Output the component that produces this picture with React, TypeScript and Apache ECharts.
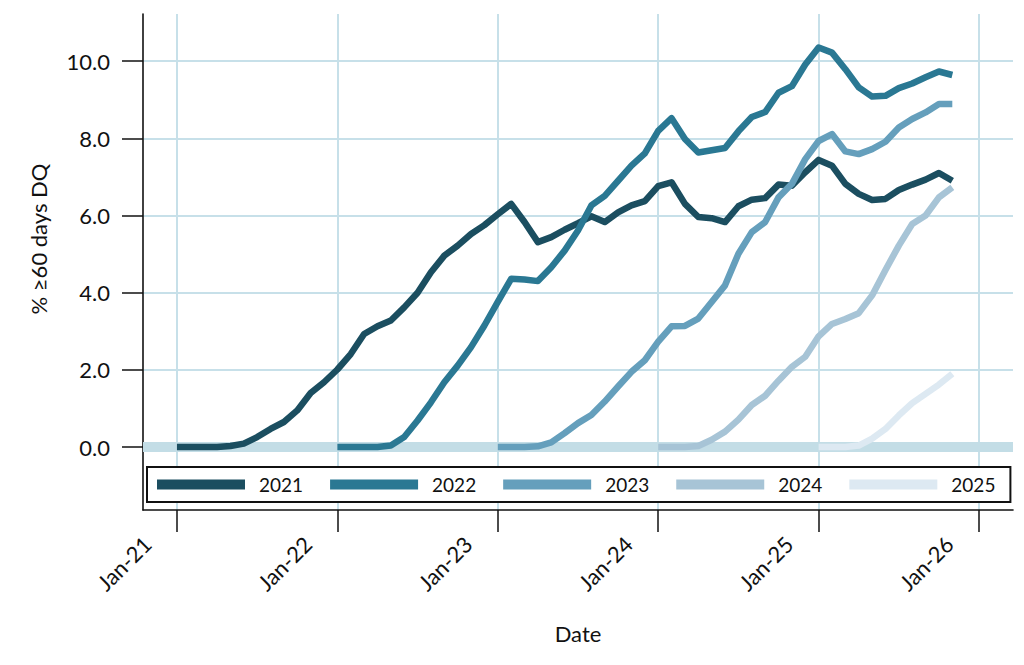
import React, { useEffect, useRef } from "react";
import * as echarts from "echarts";

// month index: 0 = Jan 2021
const seriesNames = ["2021", "2022", "2023", "2024", "2025"];
const seriesStart = [0, 12, 24, 36, 48];
const seriesColors = ["#1b4e60", "#2a7893", "#659fbc", "#a7c4d6", "#dde9f2"];

const v2021 = [
  0, 0, 0, 0, 0.03, 0.09, 0.26, 0.47, 0.65, 0.95, 1.4, 1.68,
  2.01, 2.41, 2.93, 3.13, 3.28, 3.62, 4.0, 4.53, 4.96, 5.22, 5.52, 5.75,
  6.03, 6.3, 5.83, 5.31, 5.44, 5.63, 5.8, 5.98, 5.83, 6.08, 6.26, 6.37,
  6.76, 6.86, 6.3, 5.96, 5.93, 5.83, 6.24, 6.41, 6.45, 6.8, 6.77, 7.12,
  7.44, 7.29, 6.82, 6.56, 6.4, 6.43, 6.66, 6.8, 6.93, 7.1, 6.9,
];
const v2022 = [
  0, 0, 0, 0, 0.04, 0.26, 0.69, 1.16, 1.68, 2.11, 2.59, 3.15,
  3.76, 4.36, 4.34, 4.3, 4.66, 5.09, 5.61, 6.26, 6.51, 6.9, 7.29, 7.61,
  8.19, 8.52, 7.98, 7.63, 7.69, 7.75, 8.18, 8.55, 8.68, 9.18, 9.35, 9.91,
  10.35, 10.22, 9.79, 9.32, 9.08, 9.1, 9.3, 9.42, 9.58, 9.73, 9.64,
];
const v2023 = [
  0, 0, 0, 0.02, 0.12, 0.36, 0.62, 0.83, 1.18, 1.57, 1.95, 2.25,
  2.73, 3.13, 3.14, 3.33, 3.76, 4.19, 5.01, 5.57, 5.83, 6.47, 6.82, 7.46,
  7.93, 8.11, 7.66, 7.59, 7.72, 7.91, 8.28, 8.5, 8.67, 8.89, 8.89,
];
const v2024 = [
  0, 0, 0, 0.03, 0.19, 0.4, 0.71, 1.09, 1.33, 1.72, 2.08, 2.34,
  2.87, 3.19, 3.32, 3.47, 3.93, 4.59, 5.22, 5.78, 6.0, 6.47, 6.73,
];
const v2025 = [0, 0, 0, 0.04, 0.22, 0.47, 0.82, 1.14, 1.38, 1.62, 1.9];

const seriesValues = [v2021, v2022, v2023, v2024, v2025];

const xTickValues = [0, 12, 24, 36, 48, 60];
const xTickLabels = ["Jan-21", "Jan-22", "Jan-23", "Jan-24", "Jan-25", "Jan-26"];
const yTickValues = [0, 2, 4, 6, 8, 10];
const yTickLabels = ["0.0", "2.0", "4.0", "6.0", "8.0", "10.0"];

const FONT = "Lato, 'Open Sans', sans-serif";
const GRID_COLOR = "#c7e0e9";

export default function App() {
  const ref = useRef<HTMLDivElement>(null);

  useEffect(() => {
    if (!ref.current) return;
    const chart = echarts.init(ref.current, undefined, { renderer: "svg" });

    const lineSeries = seriesNames.map((name, k) => ({
      name,
      type: "line",
      z: 3,
      showSymbol: false,
      symbol: "none",
      color: seriesColors[k],
      lineStyle: { width: 6.5, color: seriesColors[k], join: "round", cap: "butt" },
      data: seriesValues[k].map((v, i) => [seriesStart[k] + i, v]),
    }));

    const option: any = {
      animation: false,
      backgroundColor: "#ffffff",
      grid: { left: 143, top: 14, right: 11, bottom: 155, containLabel: false },
      legend: {
        data: seriesNames,
        left: 147,
        top: 467,
        orient: "horizontal",
        icon: "rect",
        itemWidth: 88,
        itemHeight: 10,
        itemGap: 27,
        padding: [8, 15, 8, 10],
        borderColor: "#111",
        borderWidth: 2,
        backgroundColor: "#ffffff",
        itemStyle: { borderWidth: 0 },
        textStyle: {
          fontFamily: FONT,
          fontSize: 19,
          color: "#111",
          padding: [0, 0, 0, 9],
        },
        z: 10,
      },
      xAxis: {
        type: "value",
        min: -2.54,
        max: 62.54,
        axisLine: { show: true, onZero: false, lineStyle: { color: "#111", width: 1.6 } },
        axisTick: {
          show: true,
          inside: false,
          length: 22,
          customValues: xTickValues,
          lineStyle: { color: "#111", width: 1.5 },
        },
        axisLabel: {
          customValues: xTickValues,
          rotate: 45,
          margin: 16,
          fontFamily: FONT,
          fontSize: 22,
          color: "#111",
          verticalAlign: "bottom",
          padding: [0, 31, 0, 0],
          formatter: (v: number) => xTickLabels[xTickValues.indexOf(v)] ?? "",
        },
        splitLine: { show: true, lineStyle: { color: GRID_COLOR, width: 2 } },
      },
      yAxis: {
        type: "value",
        min: -1.63,
        max: 11.22,
        axisLine: { show: true, onZero: false, lineStyle: { color: "#111", width: 1.6 } },
        axisTick: {
          show: true,
          inside: false,
          length: 21,
          customValues: yTickValues,
          lineStyle: { color: "#111", width: 1.5 },
        },
        axisLabel: {
          customValues: yTickValues,
          margin: 33,
          fontFamily: FONT,
          fontSize: 22,
          color: "#111",
          formatter: (v: number) => yTickLabels[yTickValues.indexOf(v)] ?? "",
        },
        splitLine: { show: true, lineStyle: { color: GRID_COLOR, width: 2 } },
      },
      graphic: [
        {
          type: "text",
          x: 38,
          y: 239,
          rotation: Math.PI / 2,
          style: {
            text: "% \u226560 days DQ",
            fontFamily: FONT,
            fontSize: 22,
            fill: "#111",
            align: "center",
            verticalAlign: "middle",
          },
        },
        {
          type: "text",
          x: 578,
          y: 633,
          style: {
            text: "Date",
            fontFamily: FONT,
            fontSize: 22,
            fill: "#111",
            align: "center",
            verticalAlign: "middle",
          },
        },
      ],
      series: [
        {
          name: "zeroBand",
          type: "line",
          data: [],
          z: 1,
          markLine: {
            silent: true,
            z: 1,
            symbol: ["none", "none"],
            label: { show: false },
            lineStyle: { color: "#c3dde6", width: 10, type: "solid" },
            data: [{ yAxis: 0 }],
          },
        },
        ...lineSeries,
      ],
    };

    chart.setOption(option);
    return () => chart.dispose();
  }, []);

  return (
    <div
      ref={ref}
      style={{ position: "fixed", left: 0, top: 0, width: 1024, height: 665 }}
    />
  );
}
